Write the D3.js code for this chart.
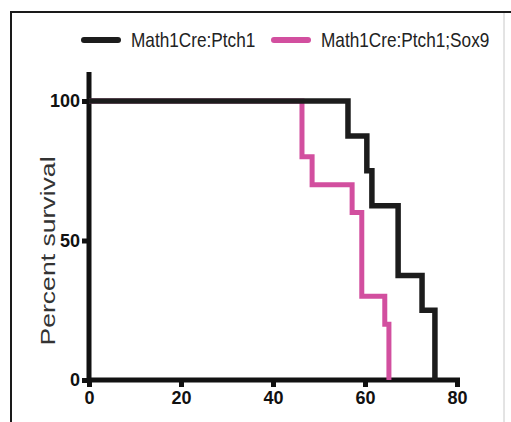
<!DOCTYPE html>
<html>
<head>
<meta charset="utf-8">
<script src="https://d3js.org/d3.v7.min.js"></script>
<style>
  body { margin: 0; background: #fff; }
  svg { display: block; }
</style>
</head>
<body>
<div id="chart"></div>
<script>
    "use strict";

    // survival steps (days, percent)
    var seriesNames = ['Math1Cre:Ptch1', 'Math1Cre:Ptch1;Sox9'];
    var seriesColors = ['#1c1c1c', '#d24f9f'];
    var ptchDays = [0, 56.3, 60.4, 61.5, 67.2, 72.4, 75.2];
    var ptchSurvival = [100, 87.5, 75, 62.5, 37.5, 25, 0];
    var sox9Days = [0, 46.3, 48.5, 57.2, 59.3, 64.3, 65.2];
    var sox9Survival = [100, 80, 70, 60, 30, 20, 0];
    var xTicks = [0, 20, 40, 60, 80];
    var yTicks = [0, 50, 100];

    var width = 511,
        height = 422,
        font = '"Liberation Sans", Arial, sans-serif';

    var svg = d3.select('#chart').append('svg')
        .attr('width', width)
        .attr('height', height);

    // outer frame (top and left dark, right side faint)
    svg.append('line')
        .attr('x1', 11).attr('x2', width).attr('y1', 12).attr('y2', 12)
        .attr('stroke', '#1a1a1a').attr('stroke-width', 2);
    svg.append('line')
        .attr('x1', 11).attr('x2', 11).attr('y1', 11).attr('y2', height)
        .attr('stroke', '#1a1a1a').attr('stroke-width', 2);
    svg.append('line')
        .attr('x1', 504).attr('x2', 504).attr('y1', 13).attr('y2', height)
        .attr('stroke', '#c8c8c8').attr('stroke-width', 1);

    var x = d3.scaleLinear().domain([0, 80]).range([89, 457]);
    var y = d3.scaleLinear().domain([0, 100]).range([380, 101]);

    // axes
    var xAxis = d3.axisBottom(x).tickValues(xTicks).tickSize(7).tickPadding(4);
    var yAxis = d3.axisLeft(y).tickValues(yTicks).tickSize(7).tickPadding(2);

    var gx = svg.append('g').attr('transform', 'translate(0,' + y(0) + ')').call(xAxis);
    var gy = svg.append('g').attr('transform', 'translate(' + x(0) + ',0)').call(yAxis);

    [gx, gy].forEach(function (g) {
        g.select('.domain').remove();
        g.selectAll('.tick line').attr('stroke', '#111').attr('stroke-width', 5);
        g.selectAll('.tick text')
            .attr('fill', '#111')
            .style('font-family', font)
            .style('font-weight', 'bold')
            .style('font-size', '18px');
    });

    // thick axis lines
    svg.append('line')
        .attr('x1', x(0) - 2).attr('x2', x(80) + 3)
        .attr('y1', y(0)).attr('y2', y(0))
        .attr('stroke', '#111').attr('stroke-width', 5);
    svg.append('line')
        .attr('x1', x(0)).attr('x2', x(0))
        .attr('y1', 72).attr('y2', y(0) + 2)
        .attr('stroke', '#111').attr('stroke-width', 5);

    // y label, stretched along its length like the source image
    svg.append('text')
        .attr('transform', 'translate(55,251) rotate(-90) scale(1.33,1)')
        .attr('text-anchor', 'middle')
        .attr('fill', '#333')
        .style('font-family', font)
        .style('font-size', '20px')
        .text('Percent survival');

    // survival step curves
    var line = d3.line()
        .x(function (d) { return x(d[0]); })
        .y(function (d) { return y(d[1]); })
        .curve(d3.curveStepAfter);

    function steps(days, surv) {
        return days.map(function (d, i) { return [d, surv[i]]; });
    }

    svg.append('path')
        .datum(steps(sox9Days, sox9Survival))
        .attr('d', line)
        .attr('fill', 'none')
        .attr('stroke', seriesColors[1])
        .attr('stroke-width', 5);

    svg.append('path')
        .datum(steps(ptchDays, ptchSurvival))
        .attr('d', line)
        .attr('fill', 'none')
        .attr('stroke', seriesColors[0])
        .attr('stroke-width', 5.5);

    // legend, text condensed
    var legendX = [84, 274];
    seriesNames.forEach(function (name, i) {
        var g = svg.append('g').attr('transform', 'translate(' + legendX[i] + ',40)');
        g.append('line')
            .attr('x1', 0).attr('x2', 34)
            .attr('stroke', seriesColors[i])
            .attr('stroke-width', 6)
            .attr('stroke-linecap', 'round');
        g.append('text')
            .attr('transform', 'translate(47,7) scale(0.82,1)')
            .attr('fill', '#222')
            .style('font-family', font)
            .style('font-size', '21px')
            .text(name);
    });
</script>
</body>
</html>
